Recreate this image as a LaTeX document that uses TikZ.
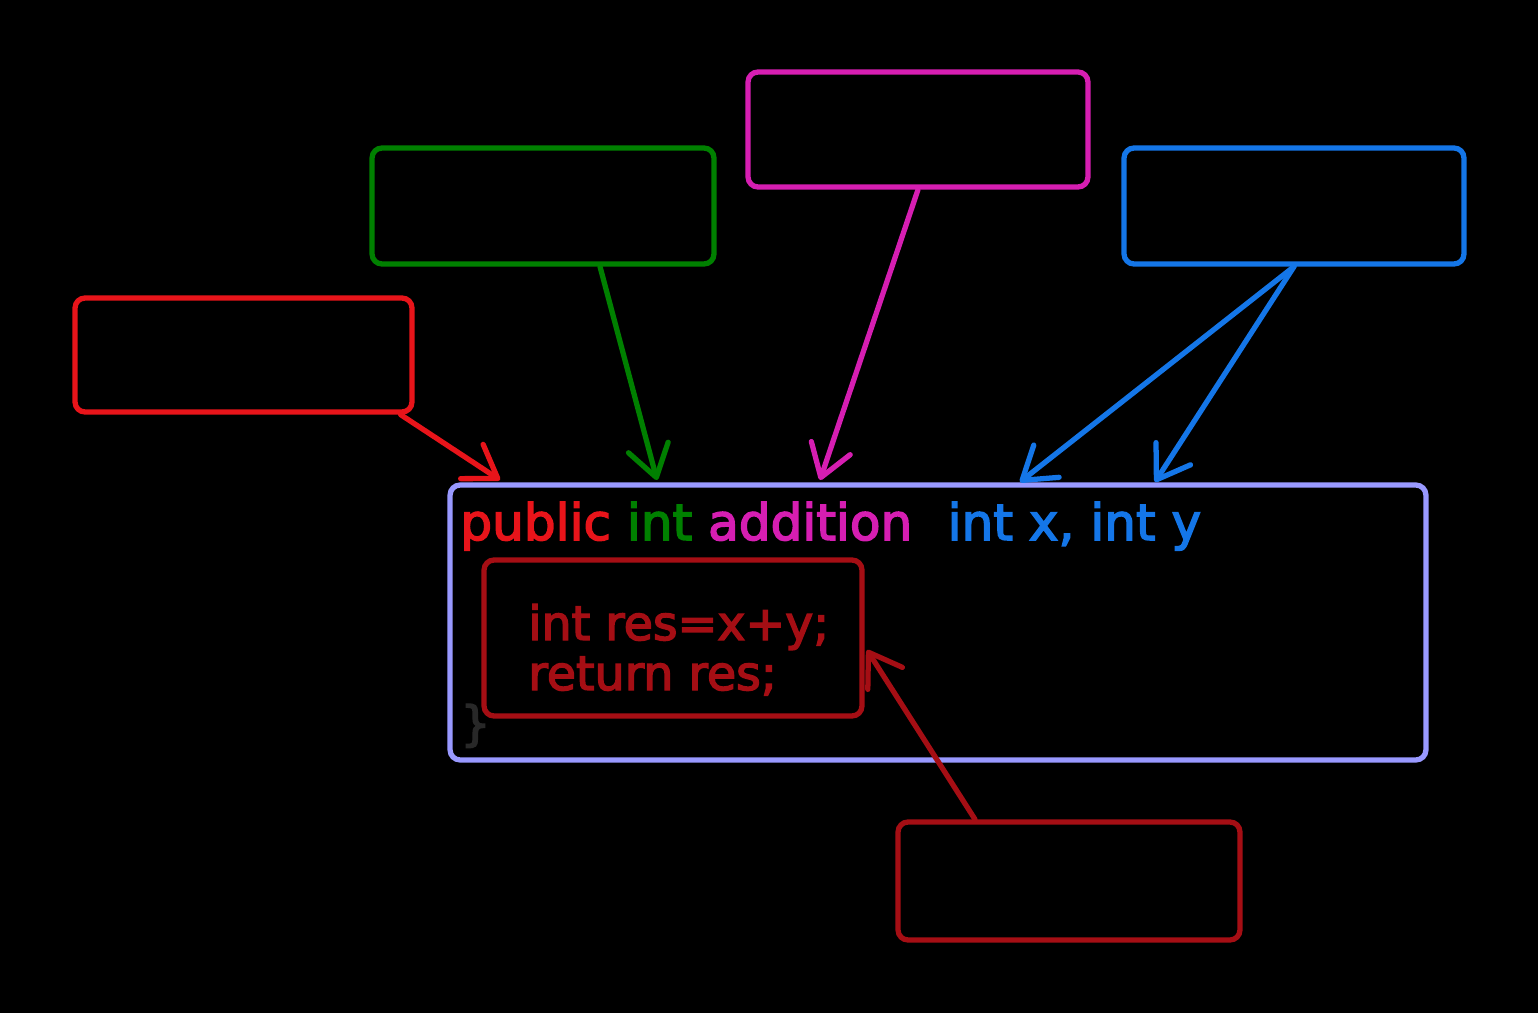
\documentclass[tikz,border=0pt]{standalone}
\usepackage{fontspec}
\setmainfont{DejaVu Sans}
\newfontfamily\codefont{DejaVu Sans}[FakeBold=3]
\usetikzlibrary{arrows.meta, positioning, calc}
\definecolor{modred}{RGB}{232,20,26}
\definecolor{typegreen}{RGB}{0,128,0}
\definecolor{namemag}{RGB}{214,30,178}
\definecolor{parblue}{RGB}{20,118,232}
\definecolor{bodyred}{RGB}{165,14,20}
\definecolor{frame}{RGB}{153,153,255}
\definecolor{brace}{RGB}{40,40,40}
\tikzset{
    note/.style={rectangle, draw, line width=3pt, rounded corners=0.2cm, minimum width=6.8cm, minimum height=2.3cm},
    codebox/.style={rectangle, draw, line width=3pt, rounded corners=0.2cm},
    code/.style={inner sep=0pt, anchor=base west, font=\codefont\fontsize{27}{32}\selectfont},
    arrow/.style={-{Straight Barb[length=0.62cm, width=0.82cm, round]}, line width=3pt, line cap=round},
}
\begin{document}
\begin{tikzpicture}[x=0.02cm, y=-0.02cm]
    \fill[black] (0,0) rectangle (1538,1013);
    % callouts
    \node[note, draw=modred, minimum width=6.74cm, minimum height=2.28cm] (modifier) at (243.5,355) {};
    \node[note, draw=typegreen, minimum width=6.84cm, minimum height=2.32cm] (rettype) at (543,206) {};
    \node[note, draw=namemag, minimum height=2.3cm] (mname) at (918,129.5) {};
    \node[note, draw=parblue, minimum height=2.32cm] (params) at (1294,206) {};
    \node[note, draw=bodyred, minimum width=6.84cm, minimum height=2.36cm] (bodynote) at (1069,881) {};
    % method
    \node[codebox, draw=frame, minimum width=19.52cm, minimum height=5.5cm] (method) at (938,622.5) {};
    \node[codebox, draw=bodyred, minimum width=7.56cm, minimum height=3.12cm] (inner) at (673,638) {};
    \node[code, font=\codefont\fontsize{28.5}{34}\selectfont] (head) at (460,540) {\textcolor{modred}{public} \textcolor{typegreen}{int} \textcolor{namemag}{addition}( \textcolor{parblue}{int x, int y}) \{};
    \node[code, text=bodyred] (line1) at (528,640) {int res=x+y;};
    \node[code, text=bodyred] (line2) at (528,690) {return res;};
    \node[code, text=brace] (close) at (460,740) {\}};
    % arrow tips
    \coordinate (tipmod) at (500,480);
    \coordinate (tiptype) at (657,480);
    \coordinate (tipname) at (820,480);
    \coordinate (tipx) at (1020,482);
    \coordinate (tipy) at (1155,482);
    \coordinate (tipbody) at (867,650);
    \draw[arrow, modred] ($(modifier.south east)+(-14,0)$) -- (tipmod);
    \draw[arrow, typegreen] ($(rettype.south)+(57,0)$) -- (tiptype);
    \draw[arrow, namemag] (mname.south) -- (tipname);
    \draw[arrow, parblue] (params.south) -- (tipx);
    \draw[arrow, parblue] (params.south) -- (tipy);
    \draw[arrow, bodyred] ($(bodynote.north)+(-94,0)$) -- (tipbody);
\end{tikzpicture}
\end{document}
